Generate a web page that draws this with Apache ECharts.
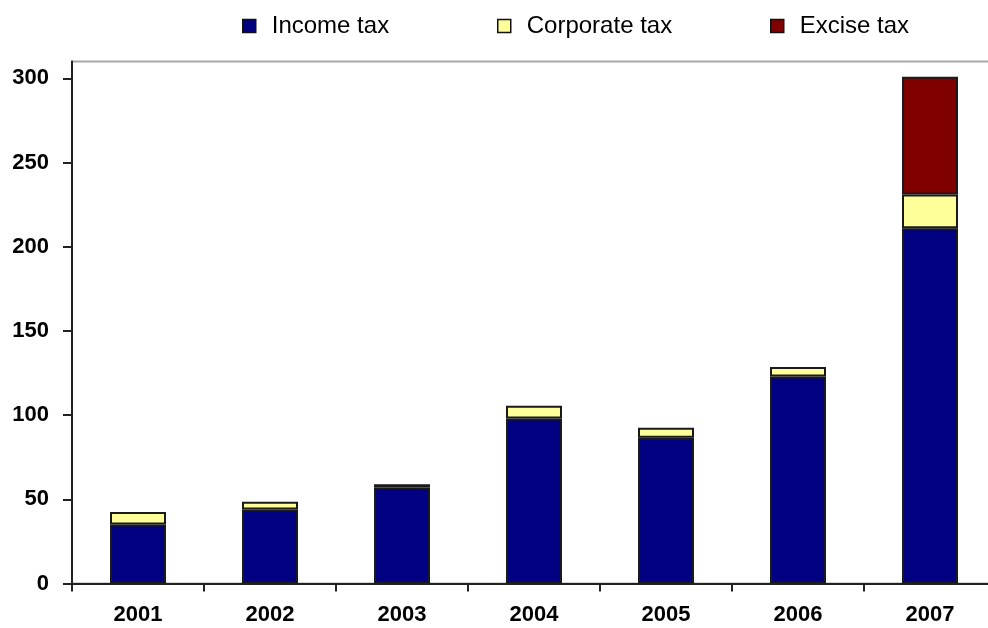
<!DOCTYPE html>
<html>
<head>
<meta charset="utf-8">
<script src="https://cdn.jsdelivr.net/npm/echarts@6/dist/echarts.min.js"></script>
<style>html,body{margin:0;padding:0;background:#fff}#c{width:988px;height:628px}</style>
</head>
<body>
<div id="c"></div>
<script>
const years = ['2001', '2002', '2003', '2004', '2005', '2006', '2007'];
const incomeTax = [35, 44, 57, 98, 86.5, 123, 211];
const corporateTax = [7.5, 4.5, 2, 7.5, 6, 5.5, 20];
const exciseTax = [null, null, null, null, null, null, 70];
const yTicks = [0, 50, 100, 150, 200, 250, 300];
const seriesNames = ['Income tax', 'Corporate tax', 'Excise tax'];
const seriesColors = ['#000080', '#FFFF99', '#800000'];

const chart = echarts.init(document.getElementById('c'), null, {renderer: 'canvas'});
const font = 'Liberation Sans, Arial, sans-serif';
const legendLefts = [237, 492, 765];
const legends = seriesNames.map((n, i) => ({
  data: [n], left: legendLefts[i], top: 9, itemWidth: 13, itemHeight: 13, itemGap: 0,
  icon: 'rect',
  itemStyle: {borderColor: '#111', borderWidth: 1.5},
  textStyle: {fontFamily: font, fontSize: 24, color: '#000', padding: [0, 0, 0, 11]},
  selectedMode: false
}));
const dataSets = [incomeTax, corporateTax, exciseTax];
chart.setOption({
  animation: false,
  legend: legends,
  grid: {left: 72, top: 61.5, width: 924, height: 522, outerBoundsMode: 'none', containLabel: false,
    show: true, borderColor: '#a8a8a8', borderWidth: 2, backgroundColor: 'transparent'},
  xAxis: {
    type: 'category', data: years,
    axisLine: {lineStyle: {color: '#222', width: 2}},
    axisTick: {show: true, length: 8, lineStyle: {color: '#222', width: 2}},
    axisLabel: {fontFamily: font, fontSize: 22, fontWeight: 'bold', color: '#000', margin: 20}
  },
  yAxis: {
    type: 'value', min: 0, max: 310, interval: 50,
    splitLine: {show: false},
    axisLine: {show: true, lineStyle: {color: '#222', width: 2}},
    axisTick: {show: true, length: 9, lineStyle: {color: '#222', width: 2}, customValues: yTicks},
    axisLabel: {fontFamily: font, fontSize: 22, fontWeight: 'bold', color: '#000', margin: 23, customValues: yTicks}
  },
  series: seriesNames.map((n, i) => ({
    name: n, type: 'bar', stack: 'total', barWidth: 56, data: dataSets[i],
    itemStyle: {color: seriesColors[i], borderColor: '#1a1a1a', borderWidth: 2}
  }))
});
</script>
</body>
</html>
